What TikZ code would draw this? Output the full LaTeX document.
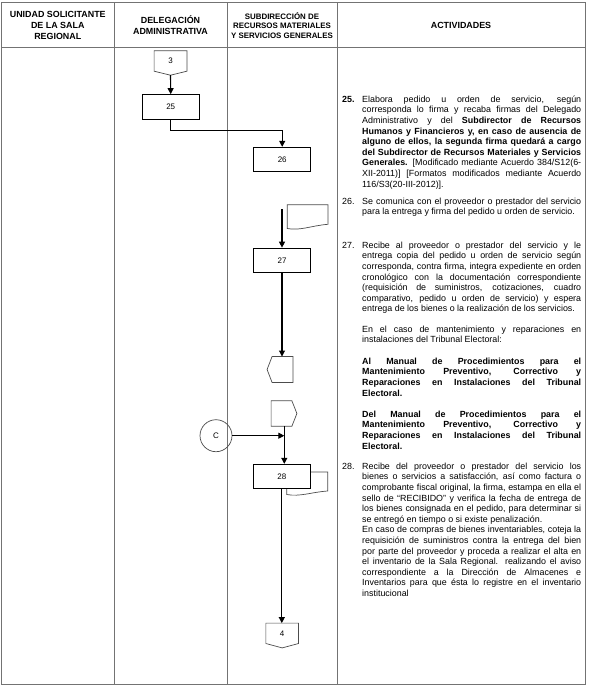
\documentclass[tikz,border=0pt]{standalone}
\usepackage{fontspec}
\setmainfont{Liberation Sans}
\usetikzlibrary{arrows.meta,calc}
\newcommand{\jl}[1]{\makebox[219pt][s]{#1}}
\newcommand{\fl}{\rule{0pt}{8.5pt}}
\begin{document}
\begin{tikzpicture}[x=1pt,y=-1pt,
  frame/.style={draw=gray!90!black, line width=0.9pt},
  procbox/.style={draw=black, line width=0.8pt, minimum width=57pt, minimum height=24.5pt, inner sep=0pt, fill=white, font=\fontsize{8}{9}\selectfont},
  shapeline/.style={draw=black!70, line width=0.7pt},
  conn/.style={draw=none, inner sep=0pt, font=\fontsize{8}{9}\selectfont},
  flow/.style={draw=black, line width=1.1pt, -{Triangle[length=6pt,width=6pt]}},
  body/.style={anchor=north west, inner sep=0pt, align=left, font=\fontsize{8.9}{10.6}\selectfont},
  boldbody/.style={body, font=\bfseries\fontsize{8.9}{10.6}\selectfont},
  head/.style={align=center, inner sep=0pt, font=\bfseries\fontsize{8.9}{11}\selectfont},
]
\useasboundingbox (0,0) rectangle (589,689);
\fill[white] (0,0) rectangle (589,689);
% frame
\draw[frame] (1.5,2) rectangle (585.5,684.5);
\draw[frame] (1.5,47) -- (585.5,47);
\draw[frame] (114,2) -- (114,684.5);
\draw[frame] (227,2) -- (227,684.5);
\draw[frame] (337,2) -- (337,684.5);
% headers
\node[head] (h1) at (57.75,25) {UNIDAD SOLICITANTE\\DE LA SALA\\REGIONAL};
\node[head] (h2) at (170.5,25.5) {DELEGACIÓN\\ADMINISTRATIVA};
\node[head, font=\bfseries\fontsize{7.9}{9.5}\selectfont] (h3) at (282,25.5) {SUBDIRECCIÓN DE\\RECURSOS MATERIALES\\Y SERVICIOS GENERALES};
\node[head] (h4) at (461,25) {ACTIVIDADES};
% connector 3
\node[conn, minimum width=32.4pt, minimum height=20pt] (c3) at (170.5,61) {3};
\draw[shapeline] (c3.south west) -- (c3.north west) -- (c3.north east) -- (c3.south east) -- ($(c3.south)+(0,4)$) -- cycle;
\coordinate (c3tip) at ($(c3.south)+(0,4)$);
% box 25, 26
\node[procbox] (b25) at (170.7,106.8) {25};
\draw[flow] (c3tip) -- (b25.north);
\node[procbox] (b26) at (282.2,159.5) {26};
\draw[flow] (b25.south) -- ++(0,10.7) -| (b26.north);
% document 1
\draw[shapeline] (287.3,204.7) -- (328,204.7) -- (328,224.3) .. controls (312,225.5) and (300,231) .. (287.3,228.5) -- cycle;
\coordinate (s27) at (282,209);
\node[procbox] (b27) at (282,260.3) {27};
\draw[flow] (s27) -- (b27.north);
% left-pointing connector
\node[conn, minimum width=20.4pt, minimum height=25.6pt] (p1) at (282.5,369.5) {};
\draw[shapeline] (p1.north west) -- (p1.north east) -- (p1.south east) -- (p1.south west) -- ($(p1.west)+(-5,0)$) -- cycle;
\draw[flow] (b27.south) -- (b27.south |- p1.north);
% right-pointing connector
\node[conn, minimum width=20.4pt, minimum height=25pt] (p2) at (281.5,413.5) {};
\draw[shapeline] (p2.north west) -- (p2.north east) -- ($(p2.east)+(5,0)$) -- (p2.south east) -- (p2.south west) -- cycle;
\coordinate (p2b) at ($(p2.south)+(2.8,0)$);
% circle C
\node[circle, draw=black!70, line width=0.7pt, minimum size=32pt, inner sep=0pt, font=\fontsize{8}{9}\selectfont] (cC) at (216,435.7) {C};
% document behind 28
\draw[shapeline, fill=white] (286.7,472) -- (327.7,472) -- (327.7,491) .. controls (312,492) and (300,497) .. (286.7,494.5) -- cycle;
\node[procbox] (b28) at (281.8,476.5) {28};
\draw[flow] (p2b) -- (p2b |- b28.north);
\draw[flow] (cC.east) -- (cC.east -| p2b);
% connector 4
\node[conn, minimum width=32.3pt, minimum height=20pt] (c4) at (282.2,633.3) {4};
\draw[shapeline] (c4.south west) -- (c4.north west) -- (c4.north east) -- (c4.south east) -- ($(c4.south)+(0,4.4)$) -- cycle;
\draw[flow] (b28.south) -- (b28.south |- c4.north);
% texts
\node[boldbody] (n25) at (342,93.5) {\fl 25.};
\node[body] (t25) at (362,93.5) {\jl{\fl Elabora pedido u orden de servicio, según}\\
\jl{corresponda lo firma y recaba firmas del Delegado}\\
\jl{Administrativo y del \textbf{Subdirector de Recursos}}\\
\jl{\textbf{Humanos y Financieros y, en caso de ausencia de}}\\
\jl{\textbf{alguno de ellos, la segunda firma quedará a cargo}}\\
\jl{\textbf{del Subdirector de Recursos Materiales y Servicios}}\\
\jl{\textbf{Generales.} [Modificado mediante Acuerdo 384/S12(6-}\\
\jl{XII-2011)] [Formatos modificados mediante Acuerdo}\\
116/S3(20-III-2012)].};
\node[body] (n26) at (342,195.5) {\fl 26.};
\node[body] (t26) at (362,195.5) {\jl{\fl Se comunica con el proveedor o prestador del servicio}\\
para la entrega y firma del pedido u orden de servicio.};
\node[body] (n27) at (342,239.5) {\fl 27.};
\node[body] (t27) at (362,239.5) {\jl{\fl Recibe al proveedor o prestador del servicio y le}\\
\jl{entrega copia del pedido u orden de servicio según}\\
\jl{corresponda, contra firma, integra expediente en orden}\\
\jl{cronológico con la documentación correspondiente}\\
\jl{(requisición de suministros, cotizaciones, cuadro}\\
\jl{comparativo, pedido u orden de servicio) y espera}\\
entrega de los bienes o la realización de los servicios.};
\node[body] (t27b) at (362,323.5) {\jl{\fl En el caso de mantenimiento y reparaciones en}\\
instalaciones del Tribunal Electoral:};
\node[boldbody] (t27c) at (362,355.5) {\jl{\fl Al Manual de Procedimientos para el}\\
\jl{Mantenimiento Preventivo, Correctivo y}\\
\jl{Reparaciones en Instalaciones del Tribunal}\\
Electoral.};
\node[boldbody] (t27d) at (362,408.5) {\jl{\fl Del Manual de Procedimientos para el}\\
\jl{Mantenimiento Preventivo, Correctivo y}\\
\jl{Reparaciones en Instalaciones del Tribunal}\\
Electoral.};
\node[body] (n28) at (342,460.5) {\fl 28.};
\node[body] (t28) at (362,460.5) {\jl{\fl Recibe del proveedor o prestador del servicio los}\\
\jl{bienes o servicios a satisfacción, así como factura o}\\
\jl{comprobante fiscal original, la firma, estampa en ella el}\\
\jl{sello de “RECIBIDO” y verifica la fecha de entrega de}\\
\jl{los bienes consignada en el pedido, para determinar si}\\
se entregó en tiempo o si existe penalización.\\
\jl{En caso de compras de bienes inventariables, coteja la}\\
\jl{requisición de suministros contra la entrega del bien}\\
\jl{por parte del proveedor y proceda a realizar el alta en}\\
\jl{el inventario de la Sala Regional. realizando el aviso}\\
\jl{correspondiente a la Dirección de Almacenes e}\\
\jl{Inventarios para que ésta lo registre en el inventario}\\
institucional};
\end{tikzpicture}
\end{document}
